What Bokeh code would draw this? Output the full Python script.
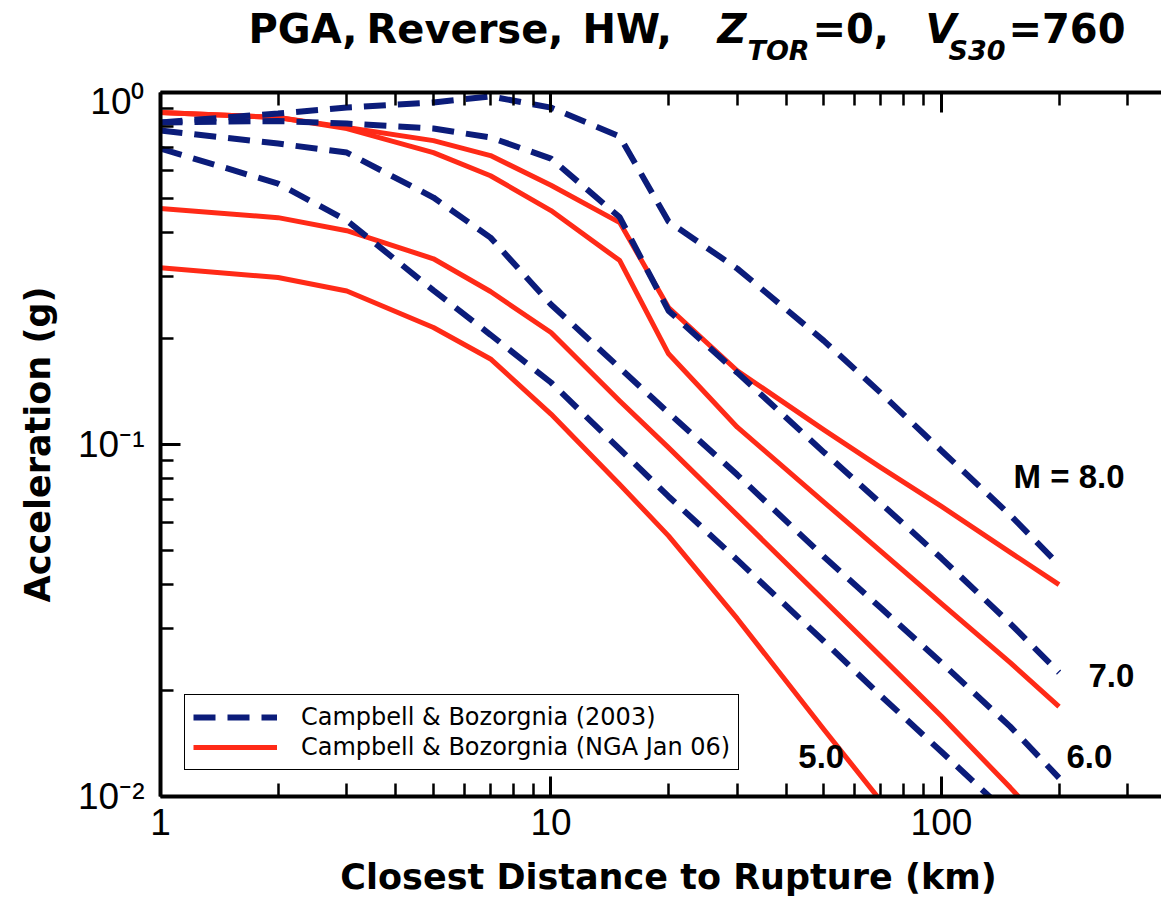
import math
from bokeh.plotting import figure
from bokeh.layouts import column
from bokeh.models import (Range1d, LogAxis, FixedTicker, Label, Legend, LegendItem,
                          PrintfTickFormatter)
from bokeh.embed import file_html
from bokeh.resources import INLINE

# ---------------- data ----------------
distance = [1, 2, 3, 5, 7, 10, 15, 20, 30, 50, 70, 100, 150, 200]

cb03_m5 = [0.693, 0.551, 0.433, 0.274, 0.205, 0.150, 0.097, 0.0712, 0.047, 0.0276, 0.0193, 0.0134, 0.0088, 0.0065]
cb03_m6 = [0.780, 0.716, 0.675, 0.503, 0.387, 0.250, 0.165, 0.123, 0.082, 0.048, 0.0343, 0.0240, 0.0158, 0.0113]
cb03_m7 = [0.822, 0.830, 0.816, 0.790, 0.745, 0.649, 0.442, 0.240, 0.160, 0.095, 0.068, 0.0475, 0.031, 0.0225]
cb03_m8 = [0.822, 0.872, 0.906, 0.937, 0.975, 0.906, 0.750, 0.430, 0.316, 0.197, 0.140, 0.096, 0.063, 0.0455]

nga_m5 = [0.318, 0.298, 0.273, 0.215, 0.175, 0.122, 0.077, 0.055, 0.032, 0.0155, 0.0097, 0.0058, 0.0033, 0.0021]
nga_m6 = [0.468, 0.441, 0.405, 0.337, 0.272, 0.208, 0.133, 0.098, 0.063, 0.0361, 0.0250, 0.0169, 0.0106, 0.0075]
nga_m7 = [0.877, 0.849, 0.790, 0.675, 0.580, 0.462, 0.333, 0.181, 0.112, 0.0686, 0.0497, 0.0353, 0.0240, 0.0180]
nga_m8 = [0.877, 0.849, 0.795, 0.730, 0.662, 0.545, 0.427, 0.245, 0.162, 0.110, 0.086, 0.0667, 0.0494, 0.0400]

legend_labels = ["Campbell & Bozorgnia (2003)", "Campbell & Bozorgnia (NGA Jan 06)"]
mag_labels = ["M = 8.0", "7.0", "6.0", "5.0"]
x_major = [1, 10, 100]
x_major_text = ["1", "10", "100"]
x_minor = [2, 3, 4, 5, 6, 7, 8, 9, 20, 30, 40, 50, 60, 70, 80, 90, 200, 300]
y_major = [0.01, 0.1, 1]
y_major_text = ["10\u207b\u00b2", "10\u207b\u00b9", "10\u2070"]
y_minor = [0.02, 0.03, 0.04, 0.05, 0.06, 0.07, 0.08, 0.09, 0.2, 0.3, 0.4, 0.5, 0.6, 0.7, 0.8, 0.9]
x_title = "Closest Distance to Rupture (km)"
y_title = "Acceleration (g)"

# ---------------- styles ----------------
NAVY = "#0b1c7a"
RED = "#ff2a17"
W, H = 1161, 900
TH = 80                      # title strip height
BH = 44                      # bottom strip (x title) height
FL = 160                     # frame left (px)
FRAME_BOTTOM = 796           # frame bottom on the page (px)
PH = H - TH - BH             # main plot height
FT = 12
FB = PH - (FRAME_BOTTOM - TH)

def strip(height):
    f = figure(width=W, height=height, x_range=Range1d(FL, W), y_range=Range1d(height, 0),
               output_backend="svg", toolbar_location=None,
               min_border_left=FL, min_border_right=0, min_border_top=0, min_border_bottom=0,
               x_axis_location=None, y_axis_location=None)
    f.outline_line_color = None
    f.xgrid.visible = False
    f.ygrid.visible = False
    f.background_fill_color = "white"
    f.border_fill_color = "white"
    return f

# ---------------- title strip ----------------
tfig = strip(TH)
title_parts = [
    (248, 28, "PGA,", "40px", "bold"),
    (366, 28, "Reverse,", "40px", "bold"),
    (582, 28, "HW,", "40px", "bold"),
    (717, 28, "Z", "40px", "bold italic"),
    (747, 50, "TOR", "27px", "bold italic"),
    (812, 28, "=0,", "40px", "bold"),
    (925, 28, "V", "40px", "bold italic"),
    (948, 50, "S30", "27px", "bold italic"),
    (1008, 28, "=760", "40px", "bold"),
]
for cx, cy, t, s, st in title_parts:
    tfig.add_layout(Label(x=cx, y=cy, text=t, text_font="DejaVu Sans", text_font_size=s,
                          text_font_style=st, text_color="black", text_align="left",
                          text_baseline="alphabetic"))

# ---------------- bottom strip (x-axis title) ----------------
bfig = strip(BH)
bfig.add_layout(Label(x=668, y=20, text=x_title, text_font="DejaVu Sans", text_font_size="35px",
                      text_font_style="bold", text_color="black", text_align="center",
                      text_baseline="alphabetic"))

# ---------------- main plot ----------------
p = figure(width=W, height=PH, x_axis_type="log", y_axis_type="log",
           x_range=Range1d(1, 366), y_range=Range1d(0.01, 1),
           output_backend="svg", toolbar_location=None,
           min_border_left=FL, min_border_right=0, min_border_top=FT, min_border_bottom=FB)
p.outline_line_color = None
p.xgrid.visible = False
p.ygrid.visible = False
p.background_fill_color = "white"
p.border_fill_color = "white"

def style_axis(ax, ticks, minor, labels):
    ax.ticker = FixedTicker(ticks=ticks, minor_ticks=minor)
    ax.formatter = PrintfTickFormatter(format="%g")
    ax.axis_line_width = 4
    ax.axis_line_color = "black"
    ax.major_tick_in = 20
    ax.major_tick_out = 0
    ax.minor_tick_in = 13
    ax.minor_tick_out = 0
    ax.major_tick_line_width = 3
    ax.minor_tick_line_width = 2.5
    ax.major_tick_line_color = "black"
    ax.minor_tick_line_color = "black"
    if labels is None:
        ax.major_label_text_font_size = "2px"
        ax.major_label_text_alpha = 0
        ax.major_label_standoff = 0
    else:
        ax.major_label_overrides = dict(zip(ticks, labels))
        ax.major_label_text_font = "Liberation Sans"
        ax.major_label_text_font_size = "37px"
        ax.major_label_text_color = "black"

xb = p.xaxis[0]
style_axis(xb, x_major, x_minor, x_major_text)
xb.major_label_standoff = 12

yl = p.yaxis[0]
style_axis(yl, y_major, y_minor, y_major_text)
yl.major_label_standoff = 16
yl.axis_label = y_title
yl.axis_label_text_font = "DejaVu Sans"
yl.axis_label_text_font_style = "bold"
yl.axis_label_text_font_size = "35px"
yl.axis_label_text_color = "black"
yl.axis_label_standoff = 17

xt = LogAxis()
style_axis(xt, x_major, x_minor, None)
p.add_layout(xt, "above")

# ---------------- curves ----------------
nga_sets = [nga_m8, nga_m7, nga_m6, nga_m5]
cb_sets = [cb03_m8, cb03_m7, cb03_m6, cb03_m5]
red_r = []
for ys in nga_sets:
    red_r.append(p.line(distance, ys, line_color=RED, line_width=5, line_join="round"))
navy_r = []
for ys in cb_sets:
    navy_r.append(p.line(distance, ys, line_color=NAVY, line_width=6, line_dash="22 12"))

legend = Legend(items=[LegendItem(label=legend_labels[0], renderers=[navy_r[0]]),
                       LegendItem(label=legend_labels[1], renderers=[red_r[0]])],
                location=(24, 26), orientation="vertical")
legend.border_line_color = "black"
legend.border_line_width = 1.5
legend.border_line_alpha = 1
legend.background_fill_color = "white"
legend.background_fill_alpha = 1
legend.label_text_font = "DejaVu Sans"
legend.label_text_font_size = "24px"
legend.label_text_color = "black"
legend.glyph_width = 84
legend.glyph_height = 24
legend.label_height = 24
legend.label_standoff = 24
legend.padding = 8
legend.spacing = 2
legend.margin = 0
p.add_layout(legend, "center")

# ---------------- magnitude annotations ----------------
mag_x = [153, 238, 209, 43]
mag_y = [0.081, 0.0221, 0.0130, 0.0130]
for t, xx, yy in zip(mag_labels, mag_x, mag_y):
    p.add_layout(Label(x=xx, y=yy, text=t, text_font="Liberation Sans",
                       text_font_style="bold", text_font_size="33px", text_color="black",
                       text_align="left", text_baseline="alphabetic"))

layout = column(tfig, p, bfig, spacing=0)
open("out.html", "w").write(file_html(layout, INLINE))
